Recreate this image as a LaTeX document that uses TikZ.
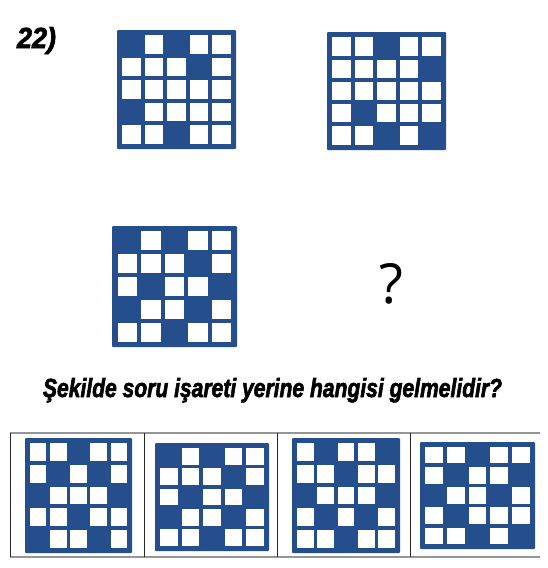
\documentclass[tikz,border=0pt]{standalone}
\usepackage{fontspec}
\setmainfont{Liberation Sans}
\newfontfamily\boldfont[FakeBold=2.5]{Liberation Sans Bold Italic}
\newfontfamily\qfont{Open Sans}
\definecolor{gridblue}{RGB}{36,78,140}
\definecolor{framegray}{RGB}{150,150,150}
\definecolor{framedark}{RGB}{40,40,40}
\newcommand{\drawgrid}[5]{%
  \fill[gridblue, rounded corners=1pt] (#1,#2) rectangle ++(#3,#4);
  \pgfmathsetmacro\gmx{0.045*#3}\pgfmathsetmacro\ggx{0.034*#3}%
  \pgfmathsetmacro\gmy{0.045*#4}\pgfmathsetmacro\ggy{0.034*#4}%
  \pgfmathsetmacro\gwx{(#3-2*\gmx-4*\ggx)/5}%
  \pgfmathsetmacro\gwy{(#4-2*\gmy-4*\ggy)/5}%
  \foreach \v [count=\k from 0] in {#5} {
    \pgfmathtruncatemacro\gr{div(\k,5)}
    \pgfmathtruncatemacro\gc{mod(\k,5)}
    \ifnum\v=0
      \fill[white] ({#1+\gmx+\gc*(\gwx+\ggx)},{#2+\gmy+\gr*(\gwy+\ggy)}) rectangle ++(\gwx,\gwy);
    \fi
  }
}
\begin{document}
\begin{tikzpicture}[x=1pt,y=-1pt,
  txt/.style={inner sep=0pt, outer sep=0pt, anchor=base west}]
\useasboundingbox (0,0) rectangle (547,568);
\fill[white] (0,0) rectangle (547,568);
% number
\node[txt] (num) at (17,48) {\resizebox{39pt}{21pt}{\boldfont 22)}};
% top grids
\drawgrid{117}{30}{119}{119}{1,0,1,0,0, 0,0,0,1,0, 0,0,0,0,0, 1,0,0,0,0, 0,0,1,0,0}
\drawgrid{327}{32}{119}{118}{0,0,1,0,0, 0,0,0,0,1, 0,0,0,0,0, 0,1,0,0,0, 0,0,1,0,1}
\drawgrid{112}{226}{125}{121}{1,0,1,0,0, 0,0,0,1,0, 0,1,0,0,1, 1,0,0,1,0, 0,0,1,0,0}
% question mark
\node[txt, anchor=base] (qm) at (391,303) {\resizebox{!}{40pt}{\qfont ?}};
% question
\node[txt] (question) at (43,397) {\resizebox{459pt}{19pt}{\boldfont Şekilde soru işareti yerine hangisi gelmelidir?}};
% options frame
\draw[framegray, line width=1.2pt] (10,433) coordinate (ftl) -- (540,433) coordinate (ftr);
\draw[framegray, line width=1.2pt] (10,557) coordinate (fbl) -- (540,557) coordinate (fbr);
\foreach \xx in {10,144,277,410} {
  \draw[framedark, line width=0.9pt] (\xx,433) -- (\xx,557);
}
\drawgrid{25}{438}{107}{115}{0,0,1,0,0, 0,1,0,1,0, 1,0,0,0,1, 0,0,1,0,0, 1,0,0,1,0}
\drawgrid{155}{443}{114}{108}{1,0,1,0,0, 0,0,0,1,0, 0,1,0,0,1, 1,0,0,1,0, 0,0,1,0,0}
\drawgrid{292}{438}{108}{115}{0,1,0,0,1, 0,0,1,0,0, 1,0,0,0,1, 0,1,0,1,0, 0,0,1,0,0}
\drawgrid{420}{442}{115}{107}{0,0,1,0,0, 0,1,0,0,1, 1,0,0,1,0, 0,1,0,0,0, 0,0,1,0,1}
\end{tikzpicture}
\end{document}
